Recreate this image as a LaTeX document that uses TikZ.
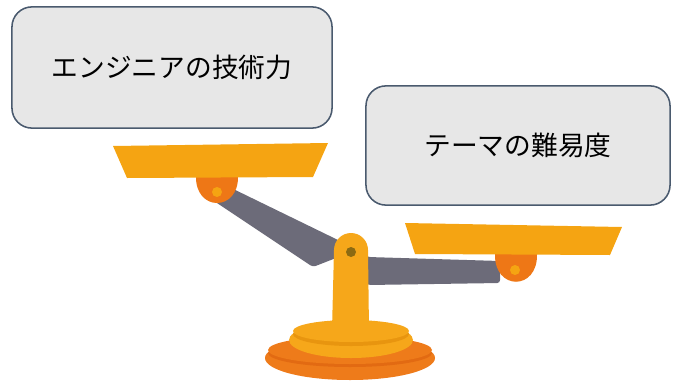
\documentclass[tikz,border=0pt]{standalone}
\usepackage{fontspec}
\newfontfamily\jpfont{Noto Sans CJK JP}
\definecolor{boxfill}{HTML}{E7E7E7}
\definecolor{boxline}{HTML}{4A5A6E}
\definecolor{pan}{HTML}{F5A412}
\definecolor{hinge}{HTML}{EE7716}
\definecolor{beam}{HTML}{6C6B79}
\definecolor{pivot}{HTML}{8C6A12}
\definecolor{baselo}{HTML}{EE7B1A}
\definecolor{baselodark}{HTML}{E26A12}
\definecolor{basehi}{HTML}{F6A71A}
\definecolor{basehidark}{HTML}{E8950F}

\begin{document}
\begin{tikzpicture}[x=0.025cm, y=-0.025cm,
    textbox/.style={draw=boxline, line width=1.1pt, fill=boxfill,
      rounded corners=0.5cm, font=\jpfont\fontsize{19}{22}\selectfont}]
  \useasboundingbox (0,0) rectangle (677,382);

  \node[textbox, minimum width=8cm, minimum height=3.03cm] (skill) at (172,67.5)
    {エンジニアの技術力};
  \node[textbox, minimum width=7.6cm, minimum height=2.98cm] (theme) at (518,145.5)
    {テーマの難易度};

  % base
  \fill[baselo] (350,358) ellipse [x radius=85, y radius=22];
  \fill[baselodark] (350,353) ellipse [x radius=82, y radius=14];
  \fill[baselo] (350,350) ellipse [x radius=82, y radius=14];
  \fill[basehi] (351,340) ellipse [x radius=62, y radius=18];
  \fill[basehidark] (351,334) ellipse [x radius=58, y radius=12];
  \fill[basehi] (351,331) ellipse [x radius=58, y radius=11];

  % beam
  \fill[beam, rounded corners=2pt] (211,199) -- (223,184) -- (338,240) -- (368,257)
    -- (500,261) -- (500,283) -- (368,285) -- (336,258) -- (313,267) -- cycle;

  % post
  \fill[basehi] (332,330) -- (334,250) arc[start angle=180, end angle=360, radius=17]
    -- (369,330) -- cycle;
  \fill[pivot] (351,252) circle[radius=5];

  % hinges and pans
  \fill[hinge] (196,176) .. controls (195,212) and (239,212) .. (238,176) -- cycle;
  \fill[pan] (217,192) circle[radius=5];
  \fill[hinge] (495,254) .. controls (494,291) and (538,291) .. (537,254) -- cycle;
  \fill[pan] (515,270) circle[radius=5];
  \fill[pan] (113,146) -- (328,143) -- (313,177) -- (127,178) -- cycle;
  \fill[pan] (405,223) -- (622,227) -- (610,255) -- (415,254) -- cycle;
\end{tikzpicture}
\end{document}
